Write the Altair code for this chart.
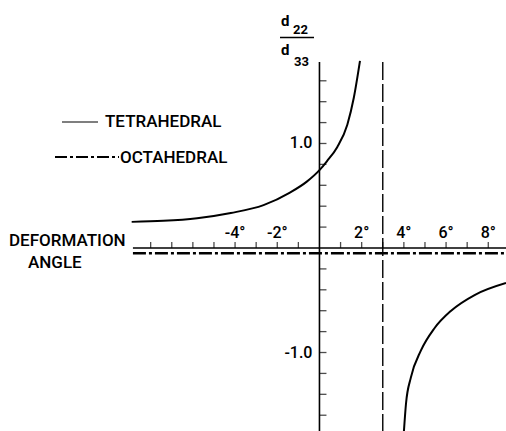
import altair as alt
import pandas as pd

# Tetrahedral d22/d33 versus deformation angle (degrees), two branches
tet_left_angle = [-8.9, -7.4, -5.8, -4.2, -2.65, -1.4, -0.6, 0.0, 0.35, 0.84, 1.32, 1.63, 1.92]
tet_left_ratio = [0.25, 0.26, 0.285, 0.335, 0.41, 0.53, 0.635, 0.745, 0.83, 0.965, 1.18, 1.44, 1.79]
tet_right_angle = [4.0, 4.1, 4.33, 4.81, 5.44, 6.24, 7.35, 8.84]
tet_right_ratio = [-1.76, -1.49, -1.24, -0.98, -0.77, -0.60, -0.45, -0.335]

# Octahedral level, drawn just under the axis
oct_ratio = -0.05
# Vertical asymptote of the tetrahedral curve
asymptote_angle = 3.0

# Axis extents and ticks
x_axis_ends = [-8.84, 8.84]
y_axis_ends = [1.78, -1.76]
x_ticks = [-8, -7, -6, -5, -4, -3, -2, -1, 1, 2, 3, 4, 5, 6, 7, 8]
x_label_vals = [-4, -2, 2, 4, 6, 8]
x_label_text = ["-4°", "-2°", "2°", "4°", "6°", "8°"]
y_ticks = [-1.6, -1.4, -1.2, -1.0, -0.8, -0.6, -0.4, -0.2,
           0.2, 0.4, 0.6, 0.8, 1.0, 1.2, 1.4, 1.6]
y_label_vals = [1.0, -1.0]
y_label_text = ["1.0", "-1.0"]

W, H = 506, 431
FONT = "Roboto"
INK = "#000000"
WEIGHT = 500

xs = alt.Scale(domain=[-15.14, 8.84], nice=False, zero=False)
ys = alt.Scale(domain=[-1.751, 2.373], nice=False, zero=False)


def X(field):
    return alt.X(field, type="quantitative", scale=xs, axis=None)


def Y(field):
    return alt.Y(field, type="quantitative", scale=ys, axis=None)


left_df = pd.DataFrame({"a": tet_left_angle, "r": tet_left_ratio})
right_df = pd.DataFrame({"a": tet_right_angle, "r": tet_right_ratio})

curve_left = alt.Chart(left_df).mark_line(
    color=INK, strokeWidth=2, interpolate="monotone", clip=True
).encode(x=X("a"), y=Y("r"), order="a:Q")
curve_right = alt.Chart(right_df).mark_line(
    color=INK, strokeWidth=2, interpolate="monotone", clip=True
).encode(x=X("a"), y=Y("r"), order="a:Q")

# Axis lines
x_axis = alt.Chart(pd.DataFrame({"x1": [x_axis_ends[0]], "x2": [x_axis_ends[1]], "y": [0.0]})).mark_rule(
    color=INK, strokeWidth=1.6, clip=True
).encode(x=X("x1"), x2="x2", y=Y("y"))
y_axis = alt.Chart(pd.DataFrame({"y1": [y_axis_ends[0]], "y2": [y_axis_ends[1]], "x": [0.0]})).mark_rule(
    color=INK, strokeWidth=1.6, clip=True
).encode(y=Y("y1"), y2="y2", x=X("x"))

# Dashed asymptote
asym = alt.Chart(pd.DataFrame({"y1": [y_axis_ends[0]], "y2": [y_axis_ends[1]], "x": [asymptote_angle]})).mark_rule(
    color=INK, strokeWidth=1.4, strokeDash=[18, 4], clip=True
).encode(y=Y("y1"), y2="y2", x=X("x"))

# Octahedral dash-dot line
octa = alt.Chart(pd.DataFrame({"x1": [x_axis_ends[0]], "x2": [x_axis_ends[1]], "y": [oct_ratio]})).mark_rule(
    color=INK, strokeWidth=2.4, strokeDash=[13, 3, 3, 3], clip=True
).encode(x=X("x1"), x2="x2", y=Y("y"))

# Tick marks: x ticks point up, y ticks point right
xt = alt.Chart(pd.DataFrame({"x": x_ticks, "y": [0.0] * len(x_ticks)})).mark_tick(
    color=INK, orient="vertical", size=6, thickness=1.3, yOffset=-3
).encode(x=X("x"), y=Y("y"))
yt = alt.Chart(pd.DataFrame({"y": y_ticks, "x": [0.0] * len(y_ticks)})).mark_tick(
    color=INK, orient="horizontal", size=7, thickness=1.3, xOffset=3.5
).encode(x=X("x"), y=Y("y"))

# Tick labels
xl = alt.Chart(pd.DataFrame({"x": x_label_vals, "y": [0.0] * len(x_label_vals), "t": x_label_text})).mark_text(
    font=FONT, fontSize=16, color=INK, align="center", baseline="alphabetic", dy=-10, fontWeight=WEIGHT
).encode(x=X("x"), y=Y("y"), text="t:N")
yl = alt.Chart(pd.DataFrame({"y": y_label_vals, "x": [0.0] * len(y_label_vals), "t": y_label_text})).mark_text(
    font=FONT, fontSize=16, color=INK, align="right", baseline="middle", dx=-7, fontWeight=WEIGHT
).encode(x=X("x"), y=Y("y"), text="t:N")


def label(text, x, y, size=17, align="left", weight=WEIGHT):
    return alt.Chart(pd.DataFrame({"t": [text]})).mark_text(
        font=FONT, fontSize=size, color=INK, align=align, baseline="alphabetic", fontWeight=weight
    ).encode(x=alt.value(x), y=alt.value(y), text="t:N")


def seg(x1, x2, y, width, dash=None):
    props = dict(color=INK, strokeWidth=width)
    if dash:
        props["strokeDash"] = dash
    return alt.Chart(pd.DataFrame({"k": [0]})).mark_rule(**props).encode(
        x=alt.value(x1), x2=alt.value(x2), y=alt.value(y)
    )


annotations = [
    # legend
    seg(62, 98, 122, 1.2),
    label("TETRAHEDRAL", 105, 127),
    seg(55, 119, 157, 2.2, [12, 3, 3, 3]),
    label("OCTAHEDRAL", 120, 163),
    # axis title
    label("DEFORMATION", 9, 246),
    label("ANGLE", 28, 268),
    # ratio label d22 / d33
    label("d", 281, 26, size=15, weight="bold"),
    label("22", 293, 34, size=13, weight="bold"),
    seg(280, 314, 37.5, 1.4),
    label("d", 281, 55, size=15, weight="bold"),
    label("33", 294, 65.5, size=13, weight="bold"),
]

chart = alt.layer(
    octa, x_axis, y_axis, asym, xt, yt, xl, yl, curve_left, curve_right, *annotations
).properties(
    width=W, height=H, padding=0, autosize="none", background="white"
).configure_view(stroke=None)

chart.save("out.html", embed_options={"renderer": "svg", "actions": False})
